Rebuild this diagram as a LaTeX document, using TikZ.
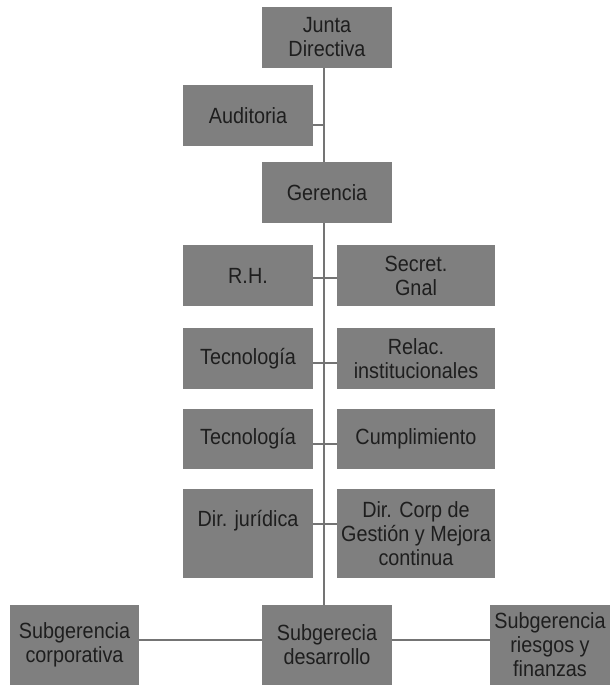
\documentclass[tikz,border=0pt]{standalone}
\usepackage{fontspec}
\setmainfont[FakeStretch=0.9]{Liberation Sans}
\usetikzlibrary{backgrounds}
\definecolor{boxgray}{HTML}{7F7F7F}
\definecolor{linegray}{HTML}{747474}
\definecolor{inkdark}{HTML}{1E1E1E}
\begin{document}
\begin{tikzpicture}[x=1pt,y=-1pt,
  unit/.style={fill=boxgray, draw=none, text=inkdark, align=center,
    inner sep=0pt, font=\fontsize{22}{24}\selectfont},
  link/.style={draw=linegray, line width=2.8pt}]
\useasboundingbox (0,0) rectangle (610,685);

% top of the chart
\node[unit, minimum width=130pt, minimum height=61pt] (jd)  at (327,37.5)  {Junta\\Directiva};
\node[unit, minimum width=130pt, minimum height=61pt] (aud) at (248,115.5) {Auditoria};
\node[unit, minimum width=130pt, minimum height=61pt] (ger) at (327,192.5) {Gerencia};

% staff units on both sides of the spine
\node[unit, minimum width=130pt, minimum height=61pt] (rh)   at (248,275.5) {R.H.};
\node[unit, minimum width=158pt, minimum height=61pt] (sg)   at (416,275.5) {Secret.\\Gnal};
\node[unit, minimum width=130pt, minimum height=61pt] (tec1) at (248,358.5) {Tecnología};
\node[unit, minimum width=158pt, minimum height=61pt] (rel)  at (416,358.5) {Relac.\\institucionales};
\node[unit, minimum width=130pt, minimum height=60pt] (tec2) at (248,439)   {Tecnología};
\node[unit, minimum width=158pt, minimum height=60pt] (cum)  at (416,439)   {Cumplimiento};
\node[unit, minimum width=130pt, minimum height=89pt] (dj)   at (248,533.5) {Dir. jurídica\\\strut};
\node[unit, minimum width=158pt, minimum height=89pt] (dc)   at (416,533.5) {Dir. Corp de\\Gestión y Mejora\\continua};

% sub-management level
\node[unit, minimum width=129pt, minimum height=80pt] (sc) at (74.5,645) {Subgerencia\\corporativa};
\node[unit, minimum width=130pt, minimum height=80pt] (sd) at (327,645)  {Subgerecia\\desarrollo};
\node[unit, minimum width=120pt, minimum height=80pt] (sr) at (550,645)  {Subgerencia\\riesgos y\\finanzas};

% spine and branches, kept behind the boxes
\coordinate (audj) at (324,125);
\begin{pgfonlayer}{background}
\draw[link] ([xshift=-3pt]jd.south) -- ([xshift=-3pt]sd.north);
\draw[link] (aud.east |- audj) -- (audj);
\draw[link] ([yshift=-2.5pt]rh.east)   -- ([yshift=-2.5pt]sg.west);
\draw[link] ([yshift=-4.5pt]tec1.east) -- ([yshift=-4.5pt]rel.west);
\draw[link] ([yshift=-5pt]tec2.east)   -- ([yshift=-5pt]cum.west);
\draw[link] ([yshift=9.5pt]dj.east)    -- ([yshift=9.5pt]dc.west);
\draw[link] ([yshift=5pt]sc.east) -- ([yshift=5pt]sd.west);
\draw[link] ([yshift=5pt]sd.east) -- ([yshift=5pt]sr.west);
\end{pgfonlayer}
\end{tikzpicture}
\end{document}
